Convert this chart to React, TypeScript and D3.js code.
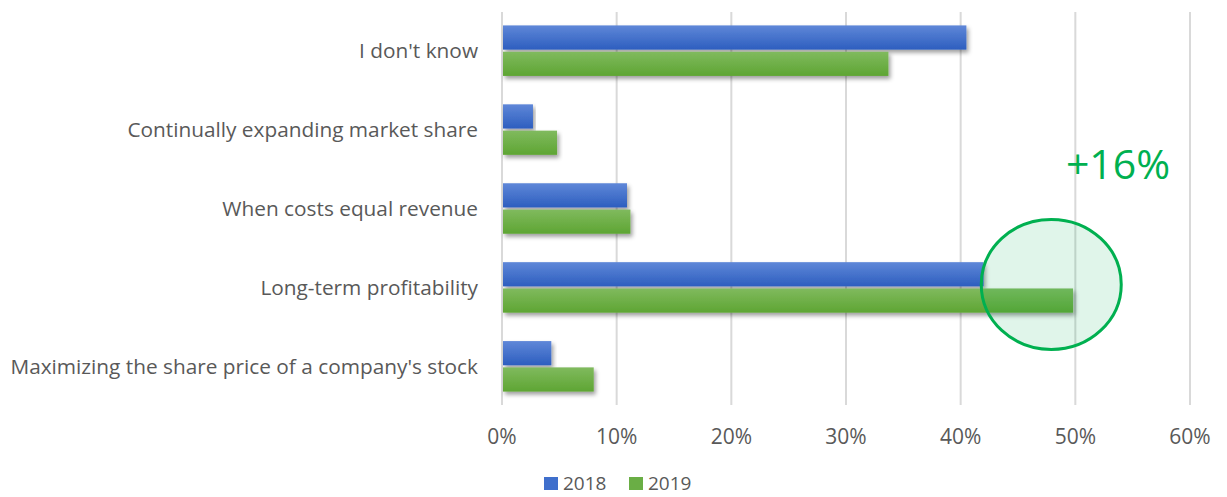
import React from "react";
import * as d3 from "d3";

const categories = [
  "I don't know",
  "Continually expanding market share",
  "When costs equal revenue",
  "Long-term profitability",
  "Maximizing the share price of a company's stock",
];
const seriesNames = ["2018", "2019"];
const values2018 = [40.5, 2.7, 10.9, 42.0, 4.3];
const values2019 = [33.7, 4.8, 11.2, 49.8, 8.0];
const xTicks = [0, 10, 20, 30, 40, 50, 60];
const annotation = "+16%";

const W = 1227;
const H = 497;
const FONT = "'Open Sans', 'Liberation Sans', sans-serif";
const TEXT = "#595959";
const GREEN_MARK = "#00b050";

const App = () => {
  const margin = { top: 12, right: 37, bottom: 92, left: 502 };

  const x = d3
    .scaleLinear()
    .domain([0, 60])
    .range([margin.left, W - margin.right]);

  const y0 = d3
    .scaleBand()
    .domain(categories)
    .range([margin.top, H - margin.bottom])
    .paddingInner(0.36)
    .paddingOuter(0.17);

  const y1 = d3
    .scaleBand()
    .domain(seriesNames)
    .range([0, y0.bandwidth()])
    .paddingInner(0.08);

  const rows = categories.map((c, i) => ({
    category: c,
    bars: [
      { key: "2018", value: values2018[i] },
      { key: "2019", value: values2019[i] },
    ],
  }));

  const fills = { "2018": "url(#grad2018)", "2019": "url(#grad2019)" };
  const legendFills = { "2018": "#3f6fcc", "2019": "#6aae45" };

  // circle marks the long-term profitability 2019 bar
  const hl = "Long-term profitability";
  const cx = x(47.9);
  const cy = y0(hl) + y0.bandwidth() / 2 - 3;

  return (
    <svg width={W} height={H} style={{ display: "block", position: "absolute", left: 0, top: 0 }}>
      <defs>
        <linearGradient id="grad2018" x1="0" y1="0" x2="0" y2="1">
          <stop offset="0%" stopColor="#5f87d8" />
          <stop offset="100%" stopColor="#2d5ebf" />
        </linearGradient>
        <linearGradient id="grad2019" x1="0" y1="0" x2="0" y2="1">
          <stop offset="0%" stopColor="#80ba5e" />
          <stop offset="100%" stopColor="#5ea533" />
        </linearGradient>
        <filter id="shadow" x="-5%" y="-30%" width="115%" height="180%">
          <feDropShadow dx="2" dy="3" stdDeviation="2.2" floodColor="#000" floodOpacity="0.38" />
        </filter>
      </defs>
      <rect width={W} height={H} fill="#fff" />

      {/* gridlines */}
      {xTicks.map((t) => (
        <line
          key={t}
          x1={x(t)}
          x2={x(t)}
          y1={margin.top}
          y2={H - margin.bottom}
          stroke="#d9d9d9"
          strokeWidth={2}
        />
      ))}

      {/* bars */}
      {rows.map((r) => (
        <g key={r.category} transform={`translate(0,${y0(r.category)})`}>
          {r.bars.map((b) => (
            <rect
              key={b.key}
              x={x(0) + 1}
              y={y1(b.key)}
              width={x(b.value) - x(0) - 1}
              height={y1.bandwidth()}
              fill={fills[b.key]}
              filter="url(#shadow)"
            />
          ))}
        </g>
      ))}

      {/* category labels */}
      {categories.map((c) => (
        <text
          key={c}
          x={margin.left - 24}
          y={y0(c) + y0.bandwidth() / 2}
          dy="0.35em"
          textAnchor="end"
          fontFamily={FONT}
          fontSize={20.8}
          fill={TEXT}
        >
          {c}
        </text>
      ))}

      {/* x axis labels */}
      {xTicks.map((t) => (
        <text
          key={t}
          x={x(t)}
          y={437}
          dy="0.35em"
          textAnchor="middle"
          fontFamily={FONT}
          fontSize={21}
          fill={TEXT}
        >
          {d3.format(".0%")(t / 100)}
        </text>
      ))}

      {/* highlight circle */}
      <ellipse
        cx={cx}
        cy={cy}
        rx={70}
        ry={65}
        fill={GREEN_MARK}
        fillOpacity={0.12}
        stroke={GREEN_MARK}
        strokeWidth={3}
      />
      <text
        x={1118}
        y={165}
        dy="0.35em"
        textAnchor="middle"
        fontFamily={FONT}
        fontSize={41}
        fill={GREEN_MARK}
      >
        {annotation}
      </text>

      {/* legend */}
      {seriesNames.map((s, i) => (
        <g key={s} transform={`translate(${544 + i * 85},483)`}>
          <rect x={0} y={-6} width={14} height={13} fill={legendFills[s]} />
          <text x={19} y={0} dy="0.35em" fontFamily={FONT} fontSize={19} fill={TEXT}>
            {s}
          </text>
        </g>
      ))}
    </svg>
  );
};

export default App;
